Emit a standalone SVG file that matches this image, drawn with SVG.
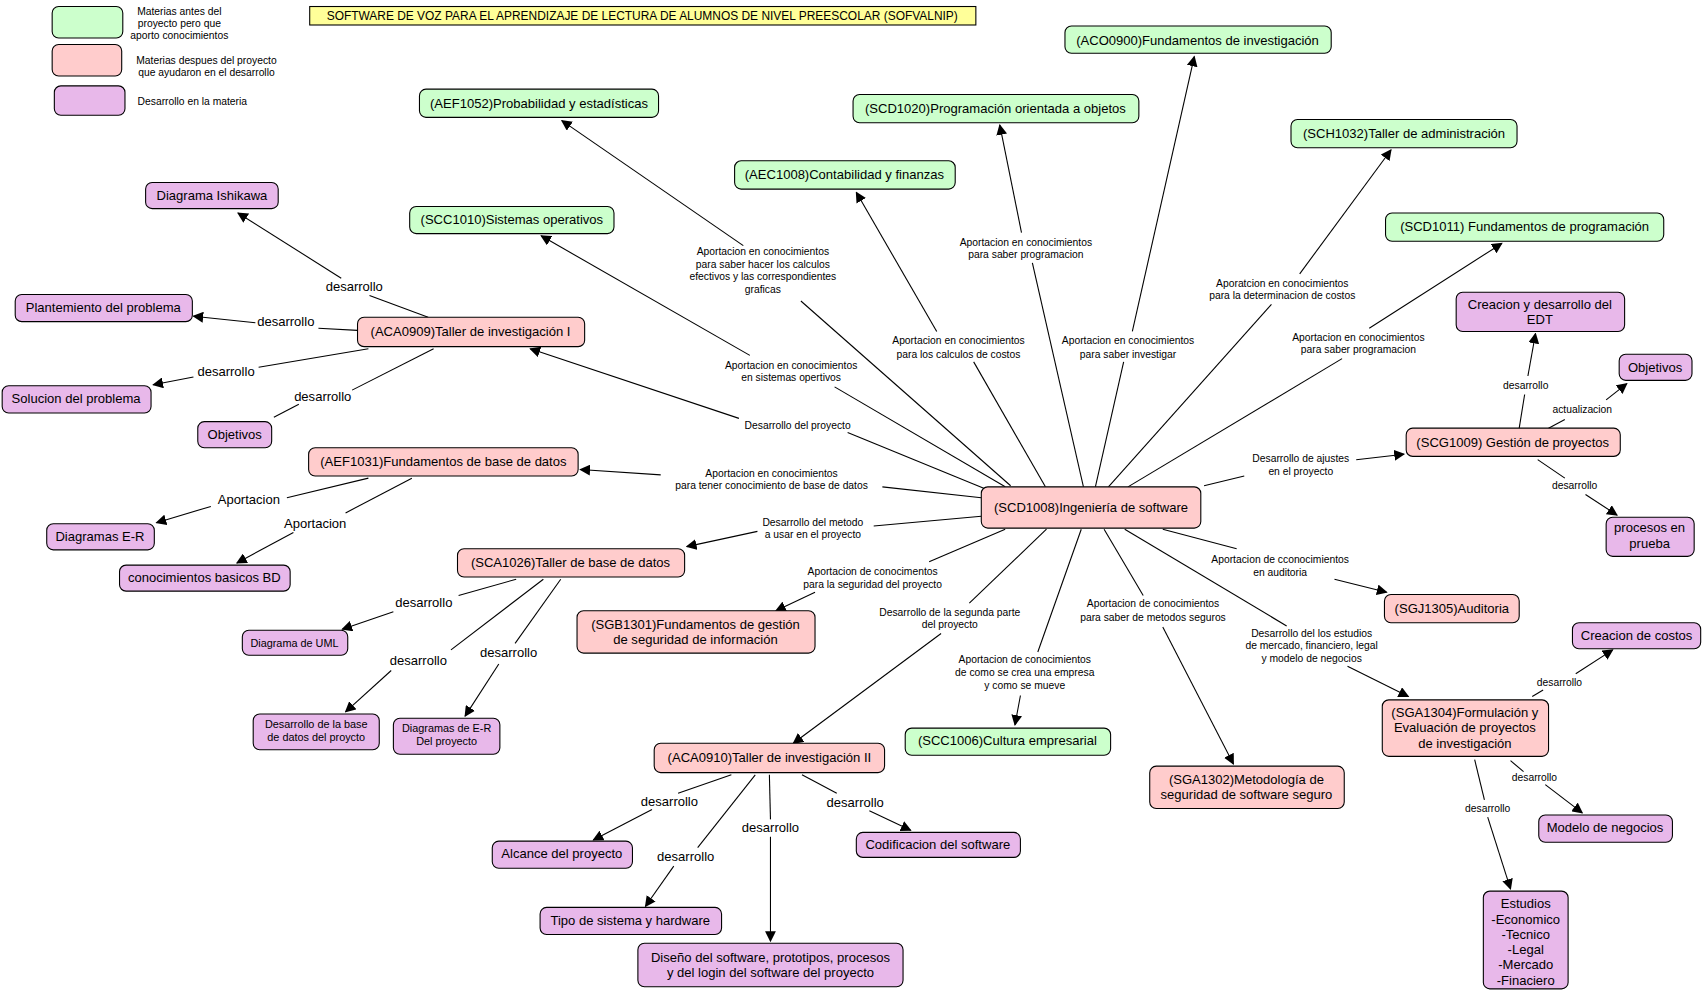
<svg xmlns="http://www.w3.org/2000/svg" width="1704" height="992" viewBox="0 0 1704 992">
<defs>
<marker id="a" viewBox="0 0 10 10" refX="9" refY="5" markerWidth="10" markerHeight="10" markerUnits="userSpaceOnUse" orient="auto"><path d="M0,0L10,5L0,10z" fill="#000"/></marker>
<style>
text{font-family:"Liberation Sans",Arial,sans-serif;fill:#000}
.n rect{stroke:#000;stroke-width:1}
.g rect{fill:#ccffcc}.p rect{fill:#ffcccc}.v rect{fill:#e8b8ea}
.n text{font-size:12px;text-anchor:middle}
.s text{font-size:10px}
.l{font-size:9.5px;text-anchor:middle}
.L{font-size:12px;text-anchor:middle}
#c line{stroke:#000;stroke-width:1}
#c line.h{marker-end:url(#a)}
.leg{font-size:9.5px;text-anchor:middle}
</style>
</defs>
<rect width="1704" height="992" fill="#fff"/>
<g transform="scale(1.0867)">
<g id="legend">
<rect x="48" y="6" width="65" height="29" rx="6" fill="#ccffcc" stroke="#000"/>
<rect x="48" y="41" width="64" height="29" rx="6" fill="#ffcccc" stroke="#000"/>
<rect x="50" y="79" width="65" height="27" rx="6" fill="#e8b8ea" stroke="#000"/>
<text class="leg" x="165" y="14">Materias antes del</text><text class="leg" x="165" y="25">proyecto pero que</text><text class="leg" x="165" y="36">aporto conocimientos</text>
<text class="leg" x="190" y="59">Materias despues del proyecto</text><text class="leg" x="190" y="70">que ayudaron en el desarrollo</text>
<text class="leg" x="177" y="97">Desarrollo en la materia</text>
</g>
<g id="title"><rect x="285" y="6" width="613" height="17" fill="#ffff99" stroke="#000"/><text x="591" y="18" font-size="11" text-anchor="middle">SOFTWARE DE VOZ PARA EL APRENDIZAJE DE LECTURA DE ALUMNOS DE NIVEL PREESCOLAR (SOFVALNIP)</text></g>

<g id="c">
<line x1="930" y1="447" x2="737" y2="277"/><line class="h" x1="684" y1="226" x2="517" y2="111"/>
<line x1="925" y1="448" x2="768" y2="356"/><line class="h" x1="690" y1="327" x2="498" y2="217"/>
<line x1="912" y1="452" x2="780" y2="398"/><line class="h" x1="680" y1="385" x2="488" y2="321"/>
<line x1="962" y1="448" x2="896" y2="333"/><line class="h" x1="862" y1="305" x2="788" y2="177"/>
<line x1="997" y1="448" x2="950" y2="242"/><line class="h" x1="940" y1="214" x2="920" y2="115"/>
<line x1="1008" y1="448" x2="1034" y2="333"/><line class="h" x1="1042" y1="305" x2="1099" y2="52"/>
<line x1="1020" y1="448" x2="1170" y2="280"/><line class="h" x1="1196" y1="252" x2="1280" y2="138"/>
<line x1="1038" y1="448" x2="1235" y2="330"/><line class="h" x1="1260" y1="302" x2="1382" y2="224"/>
<line x1="1108" y1="447" x2="1145" y2="438"/><line class="h" x1="1248" y1="423" x2="1292" y2="418"/>
<line x1="903" y1="458" x2="812" y2="448"/><line class="h" x1="608" y1="437" x2="534" y2="432"/>
<line x1="903" y1="475" x2="804" y2="484"/><line class="h" x1="697" y1="489" x2="632" y2="503"/>
<line x1="925" y1="487" x2="855" y2="517"/><line class="h" x1="750" y1="545" x2="714" y2="562"/>
<line x1="963" y1="487" x2="892" y2="555"/><line class="h" x1="866" y1="583" x2="730" y2="684"/>
<line x1="995" y1="487" x2="955" y2="600"/><line class="h" x1="939" y1="640" x2="934" y2="667"/>
<line x1="1016" y1="487" x2="1052" y2="548"/><line class="h" x1="1070" y1="577" x2="1135" y2="703"/>
<line x1="1035" y1="487" x2="1184" y2="576"/><line class="h" x1="1240" y1="613" x2="1296" y2="641"/>
<line x1="1070" y1="487" x2="1138" y2="505"/><line class="h" x1="1228" y1="533" x2="1276" y2="545"/>
<line x1="394" y1="292" x2="340" y2="272"/><line class="h" x1="314" y1="256" x2="219" y2="196"/>
<line x1="329" y1="304" x2="293" y2="302"/><line class="h" x1="235" y1="297" x2="178" y2="291"/>
<line x1="339" y1="321" x2="238" y2="338"/><line class="h" x1="178" y1="347" x2="141" y2="354"/>
<line x1="399" y1="321" x2="324" y2="359"/><line x1="275" y1="372" x2="252" y2="384"/>
<line x1="339" y1="440" x2="264" y2="458"/><line class="h" x1="194" y1="466" x2="144" y2="481"/>
<line x1="379" y1="440" x2="318" y2="472"/><line class="h" x1="270" y1="490" x2="218" y2="518"/>
<line x1="475" y1="533" x2="422" y2="548"/><line class="h" x1="362" y1="563" x2="315" y2="579"/>
<line x1="500" y1="533" x2="415" y2="598"/><line class="h" x1="360" y1="617" x2="318" y2="655"/>
<line x1="516" y1="533" x2="474" y2="592"/><line class="h" x1="459" y1="611" x2="428" y2="659"/>
<line x1="673" y1="713" x2="624" y2="730"/><line class="h" x1="600" y1="745" x2="546" y2="773"/>
<line x1="695" y1="713" x2="642" y2="780"/><line class="h" x1="620" y1="797" x2="594" y2="834"/>
<line x1="708" y1="713" x2="709" y2="754"/><line class="h" x1="709" y1="770" x2="709" y2="866"/>
<line x1="738" y1="713" x2="770" y2="730"/><line class="h" x1="800" y1="746" x2="838" y2="764"/>
<line x1="1398" y1="394" x2="1403" y2="363"/><line class="h" x1="1406" y1="346" x2="1413" y2="307"/>
<line x1="1425" y1="394" x2="1440" y2="386"/><line class="h" x1="1478" y1="368" x2="1497" y2="353"/>
<line x1="1415" y1="423" x2="1440" y2="440"/><line class="h" x1="1459" y1="455" x2="1488" y2="474"/>
<line x1="1410" y1="641" x2="1420" y2="635"/><line class="h" x1="1450" y1="620" x2="1484" y2="598"/>
<line x1="1390" y1="700" x2="1402" y2="710"/><line class="h" x1="1422" y1="722" x2="1456" y2="748"/>
<line x1="1357" y1="699" x2="1366" y2="736"/><line class="h" x1="1369" y1="752" x2="1390" y2="818"/>
</g>
<g id="labels">
<text class="l" x="702" y="235">Aportacion en conocimientos</text><text class="l" x="702" y="247">para saber hacer los calculos</text><text class="l" x="702" y="258">efectivos y las correspondientes</text><text class="l" x="702" y="270">graficas</text>
<text class="l" x="728" y="340">Aportacion en conocimientos</text><text class="l" x="728" y="351">en sistemas opertivos</text>
<text class="l" x="734" y="395">Desarrollo del proyecto</text>
<text class="l" x="882" y="317">Aportacion en conocimientos</text><text class="l" x="882" y="329">para los calculos de costos</text>
<text class="l" x="944" y="226">Aportacion en conocimientos</text><text class="l" x="944" y="237">para saber programacion</text>
<text class="l" x="1038" y="317">Aportacion en conocimientos</text><text class="l" x="1038" y="329">para saber investigar</text>
<text class="l" x="1180" y="264">Aporatcion en conocimientos</text><text class="l" x="1180" y="275">para la determinacion de costos</text>
<text class="l" x="1250" y="314">Aportacion en conocimientos</text><text class="l" x="1250" y="325">para saber programacion</text>
<text class="l" x="1197" y="425">Desarrollo de ajustes</text><text class="l" x="1197" y="437">en el proyecto</text>
<text class="l" x="710" y="439">Aportacion en conocimientos</text><text class="l" x="710" y="450">para tener conocimiento de base de datos</text>
<text class="l" x="748" y="484">Desarrollo del metodo</text><text class="l" x="748" y="495">a usar en el proyecto</text>
<text class="l" x="803" y="529">Aportacion de conocimentos</text><text class="l" x="803" y="541">para la seguridad del proyecto</text>
<text class="l" x="874" y="567">Desarrollo de la segunda parte</text><text class="l" x="874" y="578">del proyecto</text>
<text class="l" x="943" y="610">Aportacion de conocimientos</text><text class="l" x="943" y="622">de como se crea una empresa</text><text class="l" x="943" y="634">y como se mueve</text>
<text class="l" x="1061" y="559">Aportacion de conocimientos</text><text class="l" x="1061" y="571">para saber de metodos seguros</text>
<text class="l" x="1207" y="586">Desarrollo del los estudios</text><text class="l" x="1207" y="597">de mercado, financiero, legal</text><text class="l" x="1207" y="609">y modelo de negocios</text>
<text class="l" x="1178" y="518">Aportacion de cconocimientos</text><text class="l" x="1178" y="530">en auditoria</text>
<text class="L" x="326" y="268">desarrollo</text>
<text class="L" x="263" y="300">desarrollo</text>
<text class="L" x="208" y="346">desarrollo</text>
<text class="L" x="297" y="369">desarrollo</text>
<text class="L" x="229" y="464">Aportacion</text>
<text class="L" x="290" y="486">Aportacion</text>
<text class="L" x="390" y="559">desarrollo</text>
<text class="L" x="385" y="612">desarrollo</text>
<text class="L" x="468" y="605">desarrollo</text>
<text class="L" x="616" y="742">desarrollo</text>
<text class="L" x="631" y="792">desarrollo</text>
<text class="L" x="709" y="766">desarrollo</text>
<text class="L" x="787" y="743">desarrollo</text>
<text class="l" x="1404" y="358">desarrollo</text>
<text class="l" x="1456" y="380">actualizacion</text>
<text class="l" x="1449" y="450">desarrollo</text>
<text class="l" x="1435" y="631">desarrollo</text>
<text class="l" x="1412" y="719">desarrollo</text>
<text class="l" x="1369" y="747">desarrollo</text>
</g>

<g id="ACO0900" class="n g"><rect x="980" y="24" width="245" height="25" rx="6"/><text x="1102" y="41">(ACO0900)Fundamentos de investigación</text></g>
<g id="AEF1052" class="n g"><rect x="386" y="82" width="220" height="26" rx="6"/><text x="496" y="99">(AEF1052)Probabilidad y estadísticas</text></g>
<g id="SCD1020" class="n g"><rect x="785" y="87" width="263" height="26" rx="6"/><text x="916" y="104">(SCD1020)Programación orientada a objetos</text></g>
<g id="AEC1008" class="n g"><rect x="676" y="148" width="203" height="26" rx="6"/><text x="777" y="165">(AEC1008)Contabilidad y finanzas</text></g>
<g id="SCH1032" class="n g"><rect x="1188" y="110" width="208" height="26" rx="6"/><text x="1292" y="127">(SCH1032)Taller de administración</text></g>
<g id="SCC1010" class="n g"><rect x="377" y="190" width="188" height="25" rx="6"/><text x="471" y="206">(SCC1010)Sistemas operativos</text></g>
<g id="SCD1011" class="n g"><rect x="1275" y="196" width="256" height="26" rx="6"/><text x="1403" y="213">(SCD1011) Fundamentos de programación</text></g>
<g id="SCC1006" class="n g"><rect x="833" y="670" width="189" height="25" rx="6"/><text x="927" y="686">(SCC1006)Cultura empresarial</text></g>

<g id="ACA0909" class="n p"><rect x="329" y="292" width="209" height="27" rx="6"/><text x="433" y="309">(ACA0909)Taller de investigación I</text></g>
<g id="AEF1031" class="n p"><rect x="284" y="412" width="248" height="26" rx="6"/><text x="408" y="429">(AEF1031)Fundamentos de base de datos</text></g>
<g id="SCD1008" class="n p"><rect x="903" y="448" width="202" height="38" rx="6"/><text x="1004" y="471">(SCD1008)Ingeniería de software</text></g>
<g id="SCG1009" class="n p"><rect x="1294" y="394" width="197" height="26" rx="6"/><text x="1392" y="411">(SCG1009) Gestión de proyectos</text></g>
<g id="SCA1026" class="n p"><rect x="421" y="505" width="209" height="26" rx="6"/><text x="525" y="522">(SCA1026)Taller de base de datos</text></g>
<g id="SGB1301" class="n p"><rect x="531" y="562" width="219" height="39" rx="6"/><text x="640" y="579">(SGB1301)Fundamentos de gestión</text><text x="640" y="593">de seguridad de información</text></g>
<g id="SGJ1305" class="n p"><rect x="1274" y="547" width="124" height="26" rx="6"/><text x="1336" y="564">(SGJ1305)Auditoria</text></g>
<g id="ACA0910" class="n p"><rect x="602" y="684" width="212" height="27" rx="6"/><text x="708" y="701">(ACA0910)Taller de investigación II</text></g>
<g id="SGA1302" class="n p"><rect x="1058" y="705" width="179" height="39" rx="6"/><text x="1147" y="721">(SGA1302)Metodología de</text><text x="1147" y="735">seguridad de software seguro</text></g>
<g id="SGA1304" class="n p"><rect x="1272" y="644" width="153" height="52" rx="6"/><text x="1348" y="660">(SGA1304)Formulación y</text><text x="1348" y="674">Evaluación de proyectos</text><text x="1348" y="688">de investigación</text></g>

<g id="ishikawa" class="n v"><rect x="134" y="168" width="122" height="24" rx="6"/><text x="195" y="184">Diagrama Ishikawa</text></g>
<g id="plante" class="n v"><rect x="14" y="271" width="163" height="25" rx="6"/><text x="95" y="287">Plantemiento del problema</text></g>
<g id="solucion" class="n v"><rect x="2" y="355" width="137" height="25" rx="6"/><text x="70" y="371">Solucion del problema</text></g>
<g id="objL" class="n v"><rect x="182" y="388" width="68" height="24" rx="6"/><text x="216" y="404">Objetivos</text></g>
<g id="der" class="n v"><rect x="43" y="482" width="99" height="24" rx="6"/><text x="92" y="498">Diagramas E-R</text></g>
<g id="cbd" class="n v"><rect x="110" y="520" width="157" height="24" rx="6"/><text x="188" y="536">conocimientos basicos BD</text></g>
<g id="uml" class="n v s"><rect x="223" y="580" width="97" height="23" rx="6"/><text x="271" y="595">Diagrama de UML</text></g>
<g id="dbp" class="n v s"><rect x="233" y="657" width="116" height="33" rx="6"/><text x="291" y="670">Desarrollo de la base</text><text x="291" y="682">de datos del proycto</text></g>
<g id="erp" class="n v s"><rect x="362" y="661" width="98" height="33" rx="6"/><text x="411" y="674">Diagramas de E-R</text><text x="411" y="686">Del proyecto</text></g>
<g id="alcance" class="n v"><rect x="453" y="774" width="129" height="25" rx="6"/><text x="517" y="790">Alcance del proyecto</text></g>
<g id="tipo" class="n v"><rect x="497" y="835" width="167" height="25" rx="6"/><text x="580" y="851">Tipo de sistema y hardware</text></g>
<g id="diseno" class="n v"><rect x="587" y="868" width="244" height="40" rx="6"/><text x="709" y="885">Diseño del software, prototipos, procesos</text><text x="709" y="899">y del login del software del proyecto</text></g>
<g id="codif" class="n v"><rect x="788" y="766" width="151" height="23" rx="6"/><text x="863" y="781">Codificacion del software</text></g>
<g id="edt" class="n v"><rect x="1340" y="269" width="155" height="36" rx="6"/><text x="1417" y="284">Creacion y desarrollo del</text><text x="1417" y="298">EDT</text></g>
<g id="objR" class="n v"><rect x="1490" y="326" width="67" height="24" rx="6"/><text x="1523" y="342">Objetivos</text></g>
<g id="procesos" class="n v"><rect x="1478" y="476" width="81" height="36" rx="6"/><text x="1518" y="490">procesos en</text><text x="1518" y="504">prueba</text></g>
<g id="costos" class="n v"><rect x="1447" y="573" width="118" height="24" rx="6"/><text x="1506" y="589">Creacion de costos</text></g>
<g id="modelo" class="n v"><rect x="1416" y="750" width="123" height="25" rx="6"/><text x="1477" y="766">Modelo de negocios</text></g>
<g id="estudios" class="n v"><rect x="1365" y="820" width="78" height="90" rx="6"/><text x="1404" y="836">Estudios</text><text x="1404" y="850">-Economico</text><text x="1404" y="864">-Tecnico</text><text x="1404" y="878">-Legal</text><text x="1404" y="892">-Mercado</text><text x="1404" y="906">-Finaciero</text></g>
</g>
</svg>
